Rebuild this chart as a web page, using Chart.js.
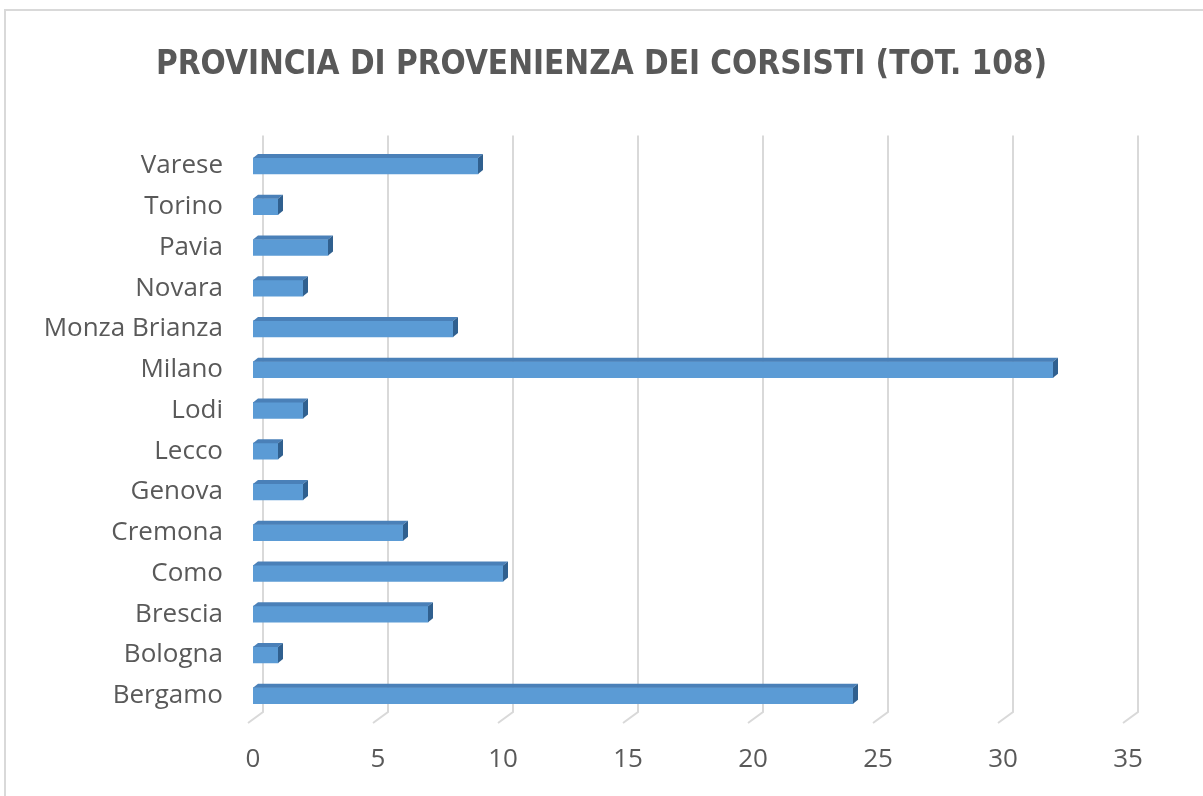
<!DOCTYPE html>
<html>
<head>
<meta charset="utf-8">
<script src="https://cdn.jsdelivr.net/npm/chart.js@4"></script>
<style>
    html, body { margin: 0; padding: 0; background: #ffffff; }
    #wrap { width: 1203px; height: 796px; }
</style>
</head>
<body>
<div id="wrap"><canvas id="chart" width="1203" height="796"></canvas></div>
<script>
// ===================================
// DATA
// ===================================
const provinces = [
    'Varese', 'Torino', 'Pavia', 'Novara', 'Monza Brianza', 'Milano', 'Lodi',
    'Lecco', 'Genova', 'Cremona', 'Como', 'Brescia', 'Bologna', 'Bergamo'
];
const corsisti = [9, 1, 3, 2, 8, 32, 2, 1, 2, 6, 10, 7, 1, 24];
const xTicks = [0, 5, 10, 15, 20, 25, 30, 35];

const textColor = '#595959';
const gridColor = '#d9d9d9';
const barFront = '#5b9bd5';
const barTop = '#4a80b8';
const barSide = '#30608f';

// frame + 3D style gridlines (back plane shifted right, floor stub)
const backdrop = {
    id: 'backdrop',
    afterLayout(chart) {
        // centre the title on the whole canvas, not on the padded area
        if (chart.titleBlock) {
            chart.titleBlock.left = 0;
            chart.titleBlock.right = chart.width;
            chart.titleBlock.width = chart.width;
        }
    },
    beforeDraw(chart) {
        const ctx = chart.ctx;
        ctx.save();
        ctx.fillStyle = '#ffffff';
        ctx.fillRect(0, 0, chart.width, chart.height);
        ctx.strokeStyle = '#d9d9d9';
        ctx.lineWidth = 2;
        ctx.strokeRect(5, 10, chart.width + 10, chart.height + 10);
        ctx.restore();
    },
    beforeDatasetsDraw(chart) {
        const ctx = chart.ctx;
        const xs = chart.scales.x;
        const area = chart.chartArea;
        ctx.save();
        ctx.strokeStyle = gridColor;
        ctx.lineWidth = 2;
        xTicks.forEach(v => {
            const px = xs.getPixelForValue(v);
            ctx.beginPath();
            ctx.moveTo(px + 10, area.top - 10);
            ctx.lineTo(px + 10, area.bottom - 4);
            ctx.lineTo(px - 5, area.bottom + 7);
            ctx.stroke();
        });
        ctx.restore();
    },
    afterDatasetsDraw(chart) {
        const ctx = chart.ctx;
        const d = 5, dy = 4;
        ctx.save();
        chart.getDatasetMeta(0).data.forEach(bar => {
            const top = bar.y - bar.height / 2;
            const bottom = bar.y + bar.height / 2;
            ctx.fillStyle = barTop;
            ctx.beginPath();
            ctx.moveTo(bar.base, top);
            ctx.lineTo(bar.x, top);
            ctx.lineTo(bar.x + d, top - dy);
            ctx.lineTo(bar.base + d, top - dy);
            ctx.closePath();
            ctx.fill();
            ctx.fillStyle = barSide;
            ctx.beginPath();
            ctx.moveTo(bar.x, top);
            ctx.lineTo(bar.x + d, top - dy);
            ctx.lineTo(bar.x + d, bottom - dy);
            ctx.lineTo(bar.x, bottom);
            ctx.closePath();
            ctx.fill();
        });
        ctx.restore();
    }
};

new Chart(document.getElementById('chart'), {
    type: 'bar',
    data: {
        labels: provinces,
        datasets: [{
            data: corsisti,
            backgroundColor: barFront,
            borderWidth: 0,
            barThickness: 16
        }]
    },
    options: {
        indexAxis: 'y',
        responsive: false,
        animation: false,
        layout: {
            padding: { left: 0, right: 75, top: 0, bottom: 18 }
        },
        plugins: {
            legend: { display: false },
            tooltip: { enabled: false },
            title: {
                display: true,
                text: 'PROVINCIA DI PROVENIENZA DEI CORSISTI (TOT. 108)',
                color: textColor,
                font: { family: "'Liberation Sans Narrow', 'DejaVu Sans Condensed', 'Open Sans'", size: 33, weight: 'bold' },
                padding: { top: 46, bottom: 60 }
            }
        },
        scales: {
            x: {
                min: 0,
                max: 35,
                grid: { display: false },
                border: { display: false },
                afterBuildTicks(scale) {
                    scale.ticks = xTicks.map(v => ({ value: v }));
                },
                afterFit(scale) {
                    scale.height = 62;
                },
                ticks: {
                    color: textColor,
                    padding: 20,
                    font: { family: "'Open Sans'", size: 26 }
                }
            },
            y: {
                grid: { display: false },
                border: { display: false },
                afterFit(scale) {
                    scale.width = 253;
                },
                ticks: {
                    color: textColor,
                    padding: 22,
                    font: { family: "'Open Sans'", size: 26 }
                }
            }
        }
    },
    plugins: [backdrop]
});
</script>
</body>
</html>
